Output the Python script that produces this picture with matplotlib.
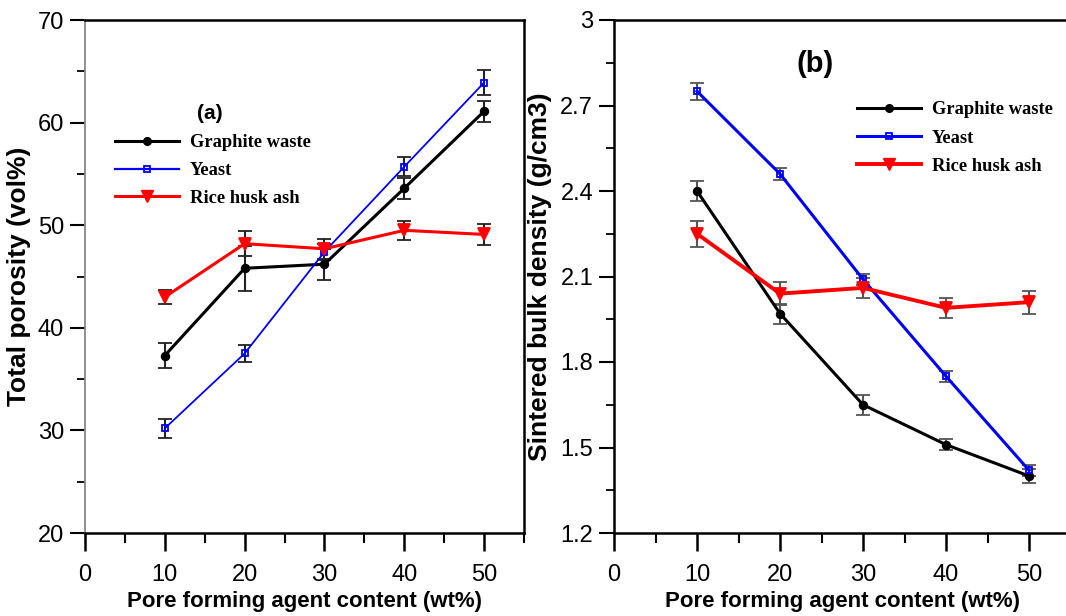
import matplotlib
matplotlib.use("Agg")
import matplotlib.pyplot as plt
from matplotlib.ticker import MultipleLocator
from matplotlib.lines import Line2D

content = [10, 20, 30, 40, 50]

# Panel (a): total porosity (vol%)
por_graphite = [37.3, 45.8, 46.2, 53.6, 61.1]
por_graphite_err = [1.2, 2.2, 1.5, 1.0, 1.0]
por_yeast = [30.2, 37.5, 47.4, 55.7, 63.9]
por_yeast_err = [0.9, 0.8, 0.8, 0.9, 1.2]
por_rice = [43.0, 48.2, 47.7, 49.5, 49.1]
por_rice_err = [0.7, 1.2, 1.0, 0.9, 1.0]

# Panel (b): sintered bulk density (g/cm3)
den_graphite = [2.40, 1.97, 1.65, 1.51, 1.40]
den_graphite_err = [0.035, 0.035, 0.035, 0.02, 0.025]
den_yeast = [2.75, 2.46, 2.09, 1.75, 1.42]
den_yeast_err = [0.03, 0.02, 0.02, 0.02, 0.02]
den_rice = [2.25, 2.04, 2.06, 1.99, 2.01]
den_rice_err = [0.045, 0.04, 0.035, 0.035, 0.04]

series_names = ["Graphite waste", "Yeast", "Rice husk ash"]

sans = ["Liberation Sans", "DejaVu Sans"]
serif = ["Liberation Serif", "DejaVu Serif"]

fig = plt.figure(figsize=(10.66, 6.16), dpi=100)
axA = fig.add_axes([85/1066, 83/616, 439/1066, 513/616])
axB = fig.add_axes([614/1066, 83/616, 456.5/1066, 513/616])


def style_axis(ax, left_gray):
    for s in ["top", "right", "bottom"]:
        ax.spines[s].set_linewidth(1.8)
        ax.spines[s].set_color("black")
    if left_gray:
        ax.spines["left"].set_color("#888888")
        ax.spines["left"].set_linewidth(1.3)
    else:
        ax.spines["left"].set_linewidth(1.8)
    ax.tick_params(axis="x", which="major", direction="out", length=13, width=1.8,
                   labelsize=17, pad=9)
    ax.tick_params(axis="x", which="minor", direction="out", length=7, width=1.5)
    ax.tick_params(axis="y", which="major", direction="out", length=11, width=1.5,
                   labelsize=17, pad=4)
    ax.tick_params(axis="y", which="minor", direction="out", length=6, width=1.3)
    ax.tick_params(top=False, right=False)
    for lab in ax.get_xticklabels() + ax.get_yticklabels():
        lab.set_family(sans)
    ax.xaxis.set_major_locator(MultipleLocator(10))
    ax.xaxis.set_minor_locator(MultipleLocator(5))
    ax.set_xlim(0, 55)


def plot_series(ax, y, err, color, marker, ms, mfc, lw, ecolor):
    ax.errorbar(content, y, yerr=err, color=color, lw=lw, marker=marker, ms=ms,
                mfc=mfc, mec=color, mew=1.3, ecolor=ecolor, elinewidth=1.5,
                capsize=5, capthick=1.5, zorder=3)


# Panel (a)
plot_series(axA, por_graphite, por_graphite_err, "black", "o", 5.5, "black", 2.2, "#222222")
plot_series(axA, por_yeast, por_yeast_err, "blue", "s", 5, "none", 1.3, "#222222")
plot_series(axA, por_rice, por_rice_err, "red", "v", 8, "red", 2.2, "#222222")
axA.set_ylim(20, 70)
axA.yaxis.set_major_locator(MultipleLocator(10))
axA.yaxis.set_minor_locator(MultipleLocator(5))
style_axis(axA, True)
axA.set_xlabel("Pore forming agent content (wt%)", fontsize=16, fontweight="bold",
               family=sans, labelpad=4)
axA.set_ylabel("Total porosity (vol%)", fontsize=19, fontweight="bold", family=sans,
               labelpad=5)
axA.text(0.285, 0.818, "(a)", transform=axA.transAxes, fontsize=15, fontweight="bold",
         family=sans, ha="center", va="center")

# Panel (b)
plot_series(axB, den_graphite, den_graphite_err, "black", "o", 5.5, "black", 2.2, "#555555")
plot_series(axB, den_yeast, den_yeast_err, "blue", "s", 5, "none", 2.2, "#555555")
plot_series(axB, den_rice, den_rice_err, "red", "v", 8, "red", 2.8, "#555555")
axB.set_ylim(1.2, 3.0)
axB.yaxis.set_major_locator(MultipleLocator(0.3))
axB.yaxis.set_minor_locator(MultipleLocator(0.15))
style_axis(axB, False)
axB.set_yticks([1.2, 1.5, 1.8, 2.1, 2.4, 2.7, 3.0])
axB.set_yticklabels(["1.2", "1.5", "1.8", "2.1", "2.4", "2.7", "3"], family=sans)
axB.set_xlabel("Pore forming agent content (wt%)", fontsize=16, fontweight="bold",
               family=sans, labelpad=4)
axB.set_ylabel("Sintered bulk density (g/cm3)", fontsize=19, fontweight="bold",
               family=sans, labelpad=6)
axB.text(0.44, 0.914, "(b)", transform=axB.transAxes, fontsize=21, fontweight="bold",
         family=sans, ha="center", va="center")


def legend_handles(lws):
    return [
        Line2D([], [], color="black", lw=lws[0], marker="o", ms=5.5),
        Line2D([], [], color="blue", lw=lws[1], marker="s", ms=5, mfc="none", mew=1.3),
        Line2D([], [], color="red", lw=lws[2], marker="v", ms=8),
    ]


legA = axA.legend(legend_handles([2.2, 1.6, 2.2]), series_names, loc="upper left",
                  bbox_to_anchor=(0.068, 0.777), frameon=False, handlelength=3.46,
                  handletextpad=0.6, labelspacing=0.58, borderpad=0, borderaxespad=0,
                  prop={"family": serif, "weight": "bold", "size": 13.3})
legB = axB.legend(legend_handles([2.2, 2.2, 2.8]), series_names, loc="upper left",
                  bbox_to_anchor=(0.532, 0.842), frameon=False, handlelength=3.46,
                  handletextpad=0.6, labelspacing=0.62, borderpad=0, borderaxespad=0,
                  prop={"family": serif, "weight": "bold", "size": 13.3})

fig.savefig("out.png", dpi=100)
